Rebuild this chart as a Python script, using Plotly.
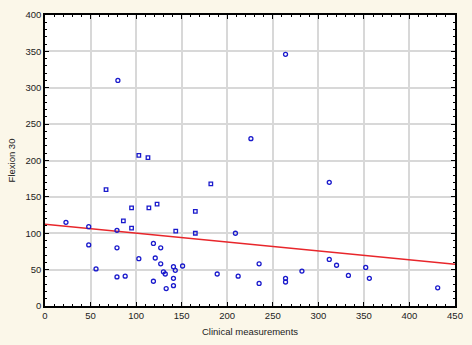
import plotly.graph_objects as go

# Square-marker points
sq_x = [67, 86, 95, 95, 103, 113, 114, 123, 143.5, 165, 165, 182]
sq_y = [160, 117, 135, 107, 207, 204, 135, 140, 103, 130, 100, 168]

# Circle-marker points
ci_x = [23, 48, 48, 56, 79, 79, 79, 80, 88, 103, 119, 121, 119, 127, 127, 130, 132, 133, 141, 143, 141, 141,
        151, 189, 209, 212, 226, 235, 235, 264, 264, 264, 282, 312, 312, 320, 333, 352, 356, 431]
ci_y = [115, 109, 84, 51, 104, 80, 40, 310, 41, 65, 86, 66, 34, 80, 58, 47, 44, 24, 54, 49, 38, 28,
        55, 44, 100, 41, 230, 58, 31, 346, 38, 33, 48, 170, 64, 56, 42, 53, 38, 25]

# Regression line endpoints
line_x = [0, 450]
line_y = [112.5, 57.5]

fig = go.Figure()
fig.add_trace(go.Scatter(x=line_x, y=line_y, mode="lines",
                         line=dict(color="#E8262B", width=1.5), showlegend=False))
fig.add_trace(go.Scatter(x=sq_x, y=sq_y, mode="markers",
                         marker=dict(symbol="square-open", size=3.5, color="#1a1acc", line=dict(width=1.3)),
                         showlegend=False))
fig.add_trace(go.Scatter(x=ci_x, y=ci_y, mode="markers",
                         marker=dict(symbol="circle-open", size=4, color="#1a1acc", line=dict(width=1.3)),
                         showlegend=False))

axis_common = dict(
    showline=True, linecolor="black", linewidth=1.5, mirror="ticks",
    ticks="inside", ticklen=4, tickcolor="black", tickwidth=1,
    showgrid=True, gridcolor="#D8D8D8", gridwidth=1.5, zeroline=False,
    tickfont=dict(family="Liberation Sans, Arial", size=9.5, color="#222"),
    minor=dict(ticks="inside", ticklen=2, dtick=10, tickcolor="black", showgrid=False),
)

fig.update_xaxes(range=[0, 450], dtick=50, tick0=0,
                 title=dict(text="Clinical measurements", standoff=8,
                            font=dict(family="Liberation Sans, Arial", size=9.5, color="#222")),
                 **axis_common)
fig.update_yaxes(range=[0, 400], dtick=50, tick0=0,
                 title=dict(text="Flexion 30", standoff=8,
                            font=dict(family="Liberation Sans, Arial", size=9.5, color="#222")),
                 **axis_common)

fig.update_layout(
    width=472, height=345,
    margin=dict(l=45, r=13, t=9, b=37),
    paper_bgcolor="#FBF7E9", plot_bgcolor="white",
)

fig.write_html("out.html", config={"displayModeBar": False},
               post_script="document.body.style.margin='0';document.body.style.padding='0';")
